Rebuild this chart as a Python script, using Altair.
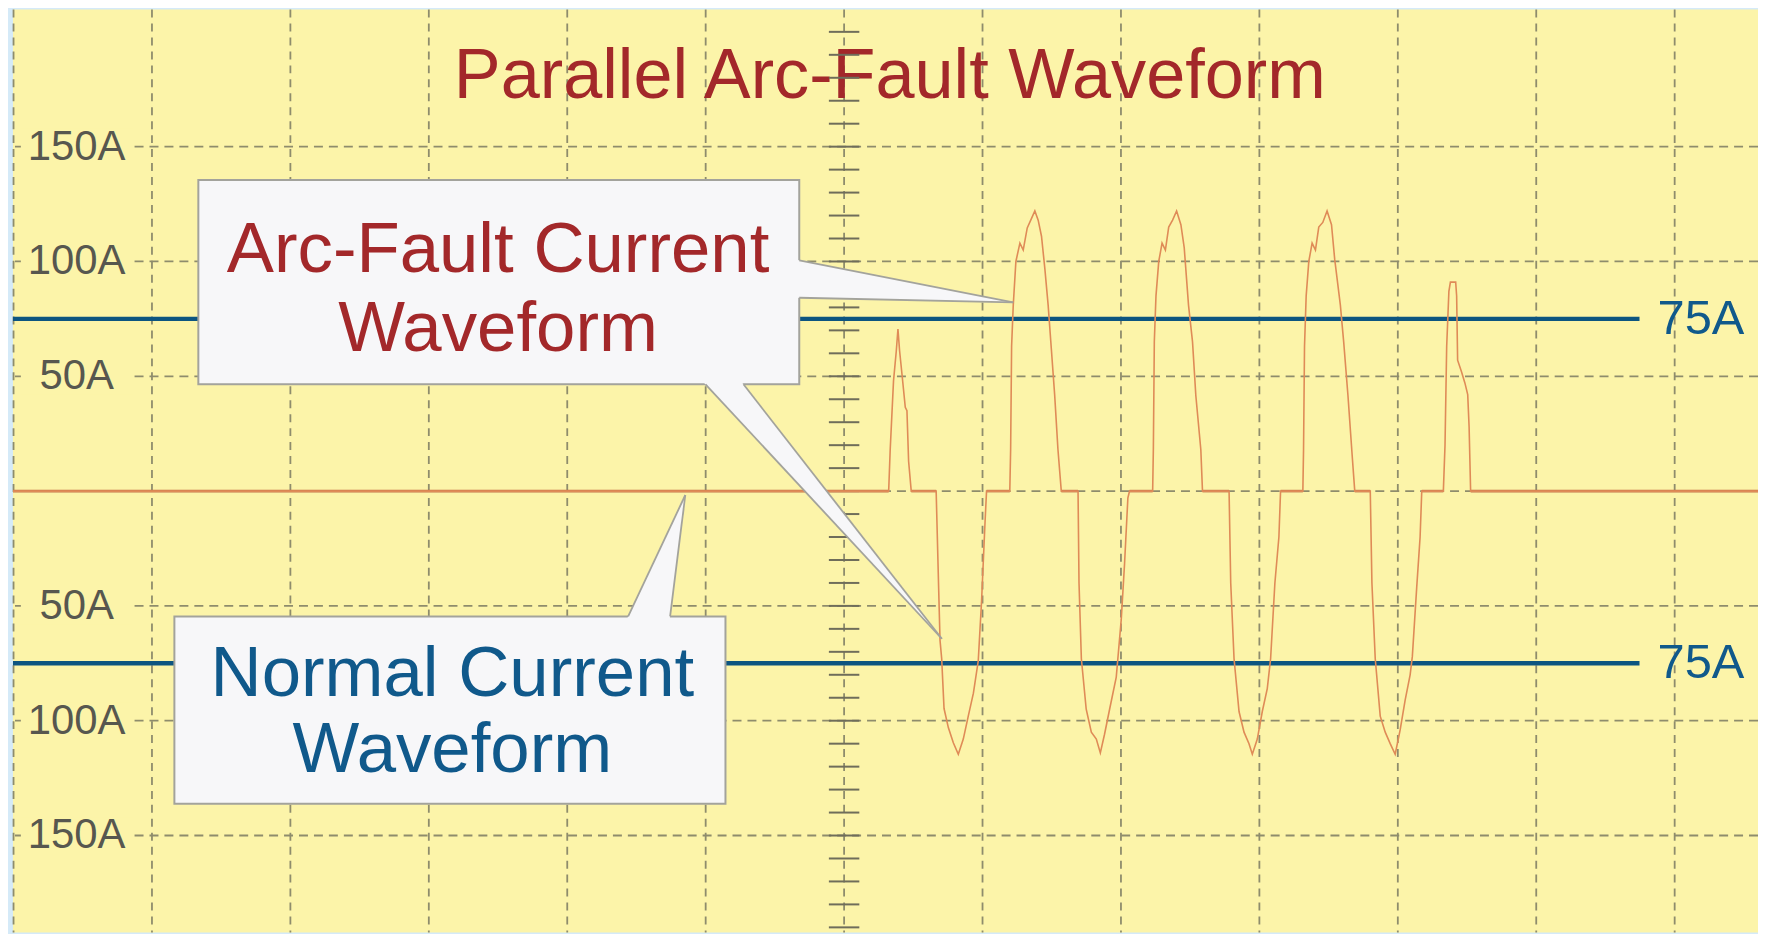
import altair as alt
import pandas as pd

# ---------------- data ----------------
# x = time in oscilloscope divisions (0 = centre graticule), y = current in amperes
X_MIN, X_MAX = -6.004, 6.602
Y_MIN, Y_MAX = -192.2, 209.7

GRID_X = [-6, -5, -4, -3, -2, -1, 0, 1, 2, 3, 4, 5, 6]
GRID_Y = [-150, -100, -50, 0, 50, 100, 150]
MINOR_TICKS = [-190, -180, -170, -160, -150, -140, -130, -120, -110, -100,
               -90, -80, -70, -60, -50, -40, -30, -20, -10, 0,
               10, 20, 30, 40, 50, 60, 70, 80, 90, 100,
               110, 120, 130, 140, 150, 160, 170, 180, 190, 200]

Y_LABEL_VALUES = [150, 100, 50, -50, -100, -150]
Y_LABEL_TEXT = ["150A", "100A", "50A", "50A", "100A", "150A"]

LIMIT_VALUES = [75, -75]
LIMIT_TEXT = ["75A", "75A"]

WAVE_T = [-6.004, 0.322, 0.333, 0.357, 0.377, 0.389, 0.401, 0.418, 0.442, 0.454, 0.466, 0.485,
          0.665, 0.682, 0.693, 0.705, 0.722, 0.753, 0.789, 0.825, 0.861, 0.897, 0.934, 0.969, 0.993, 1.017, 1.029,
          1.197, 1.203, 1.210, 1.222, 1.241, 1.270, 1.294, 1.323, 1.354, 1.378, 1.402, 1.426, 1.450, 1.474, 1.497, 1.521, 1.545, 1.569,
          1.690, 1.697, 1.714, 1.749, 1.786, 1.822, 1.851, 1.881, 1.918, 1.966, 2.002, 2.026, 2.050, 2.062,
          2.229, 2.234, 2.241, 2.253, 2.273, 2.297, 2.321, 2.345, 2.373, 2.402, 2.433, 2.457, 2.488, 2.517, 2.541, 2.577, 2.589,
          2.781, 2.793, 2.817, 2.853, 2.889, 2.925, 2.949, 2.985, 3.021, 3.057, 3.081, 3.112, 3.141, 3.153,
          3.314, 3.319, 3.326, 3.338, 3.357, 3.381, 3.405, 3.429, 3.458, 3.489, 3.521, 3.544, 3.585, 3.609, 3.640, 3.669, 3.689,
          3.801, 3.813, 3.837, 3.873, 3.909, 3.945, 3.981, 4.017, 4.053, 4.089, 4.105, 4.137, 4.161, 4.173,
          4.329, 4.341, 4.353, 4.369, 4.380, 4.418, 4.425, 4.432, 4.460, 4.485, 4.505, 4.515, 4.526,
          6.602]
WAVE_A = [0, 0, 18, 48, 61, 70.6, 61, 51, 36.5, 35, 13, 0,
          0, -40, -65, -73, -94.7, -103, -109.6, -114.6, -108, -98, -88, -74, -48, -15, 0,
          0, 18, 63, 81, 100, 108, 105, 114.6, 118.8, 122, 118, 111, 97, 81, 62, 42, 18, 0,
          0, -40, -73, -95, -105, -108, -114, -106, -95, -81, -56, -31.6, -3, 0,
          0, 18, 65, 85, 100, 108, 105, 115, 118, 122, 116, 106, 81, 65, 41.5, 18, 0,
          0, -40, -73, -96, -105, -110, -114.6, -108, -96, -86, -73, -40, -20, 0,
          0, 18, 63, 85, 100, 108, 105, 115, 117, 122, 116, 101, 81, 65, 41.5, 16.6, 0,
          0, -40, -73, -98, -105, -110, -114.6, -104, -91, -80, -72, -41.5, -20, 0,
          0, 20, 63, 87, 91, 91, 85, 57, 52, 47, 42, 28, 0,
          0]
assert len(WAVE_T) == len(WAVE_A)

# flat (noisy) stretches of the trace at 0 A
FLAT_START = [-6.004, 0.485, 1.029, 1.569, 2.062, 2.589, 3.153, 3.689, 4.173, 4.526]
FLAT_END = [0.322, 0.665, 1.197, 1.690, 2.229, 2.781, 3.314, 3.801, 4.329, 6.602]

TITLE = "Parallel Arc-Fault Waveform"
ARC_LINES = ["Arc-Fault Current", "Waveform"]
NORMAL_LINES = ["Normal Current", "Waveform"]

# callout geometry in data units (divisions, amperes)
ARC_BOX = dict(t0=-4.665, t1=-0.324, a0=46.5, a1=135.5)
NORMAL_BOX = dict(t0=-4.838, t1=-0.857, a0=-136.2, a1=-54.6)

# ---------------- styling ----------------
FONT = "Liberation Sans"
YELLOW = "#fcf4a9"
LIGHT_BLUE = "#d5eaf8"
GRID = "#8e8c6c"
BLUE_LINE = "#0d5580"
BLUE_TEXT = "#10598b"
RED_TEXT = "#a3282a"
BOX_FILL = "#f7f7f9"
BOX_EDGE = "#a3a39c"
WAVE = "#df8b57"
NOISE = "#c4714a"

XS = alt.Scale(domain=[X_MIN, X_MAX], nice=False, zero=False)
YS = alt.Scale(domain=[Y_MIN, Y_MAX], nice=False, zero=False)


def X(f):
    return alt.X(f"{f}:Q", scale=XS, axis=None)


def Y(f):
    return alt.Y(f"{f}:Q", scale=YS, axis=None)


grid_v = alt.Chart(pd.DataFrame({"t": GRID_X})).mark_rule(
    color=GRID, strokeWidth=1.8, strokeDash=[8, 6]).encode(x=X("t"))
grid_h = alt.Chart(pd.DataFrame({"a": GRID_Y})).mark_rule(
    color=GRID, strokeWidth=1.8, strokeDash=[9, 6]).encode(y=Y("a"))

ticks_df = pd.DataFrame({"a": MINOR_TICKS})
ticks_df["t0"] = -0.11
ticks_df["t1"] = 0.11
center_ticks = alt.Chart(ticks_df).mark_rule(color="#6f6d5a", strokeWidth=2).encode(
    x=X("t0"), x2="t1", y=Y("a"))

lab_df = pd.DataFrame({"a": Y_LABEL_VALUES, "label": Y_LABEL_TEXT})
lab_df["t"] = -5.544
lab_df["t0"] = -5.947
lab_df["t1"] = -5.14
lab_df["a0"] = lab_df["a"] - 8
lab_df["a1"] = lab_df["a"] + 8
label_bg = alt.Chart(lab_df).mark_rect(color=YELLOW).encode(
    x=X("t0"), x2="t1", y=Y("a0"), y2="a1")
labels = alt.Chart(lab_df).mark_text(
    font=FONT, fontSize=42, color="#57574f", align="center", baseline="middle").encode(
    x=X("t"), y=Y("a"), text="label:N")

lim_df = pd.DataFrame({"a": LIMIT_VALUES, "label": LIMIT_TEXT})
lim_df["t0"] = X_MIN
lim_df["t1"] = 5.746
lim_df["tl"] = 6.19
limit_lines = alt.Chart(lim_df).mark_rule(color=BLUE_LINE, strokeWidth=4.5).encode(
    x=X("t0"), x2="t1", y=Y("a"))
limit_text = alt.Chart(lim_df).mark_text(
    font=FONT, fontSize=49, color=BLUE_TEXT, align="center", baseline="middle").encode(
    x=X("tl"), y=Y("a"), text="label:N")

title = alt.Chart(pd.DataFrame({"t": [0.33], "a": [171.0], "s": [TITLE]})).mark_text(
    font=FONT, fontSize=70.5, color=RED_TEXT, align="center", baseline="alphabetic").encode(
    x=X("t"), y=Y("a"), text="s:N")

wave_df = pd.DataFrame({"t": WAVE_T, "a": WAVE_A, "i": list(range(len(WAVE_T)))})
wave = alt.Chart(wave_df).mark_line(color=WAVE, strokeWidth=1.6, clip=True).encode(
    x=X("t"), y=Y("a"), order="i:Q")

flat_df = pd.DataFrame({"t0": FLAT_START, "t1": FLAT_END})
flat_df["a"] = 0
noise = alt.Chart(flat_df).mark_rule(color=NOISE, strokeWidth=2.6, clip=True).encode(
    x=X("t0"), x2="t1", y=Y("a"))

box_df = pd.DataFrame([ARC_BOX, NORMAL_BOX])
boxes = alt.Chart(box_df).mark_rect(fill=BOX_FILL, stroke=BOX_EDGE, strokeWidth=2).encode(
    x=X("t0"), x2="t1", y=Y("a0"), y2="a1")

# pointer pointing right from the arc-fault box
p1 = alt.Chart(pd.DataFrame({"t": [-0.345, 1.222], "a": [100.75, 82.2], "b": [84.23, 82.2]})).mark_area(
    color=BOX_FILL, opacity=1).encode(x=X("t"), y=Y("a"), y2="b")
# pointer pointing down from the arc-fault box
p2 = alt.Chart(pd.DataFrame({"a": [48.0, -64.3], "t": [-1.024, 0.706], "u": [-0.746, 0.706]})).mark_area(
    color=BOX_FILL, opacity=1, orient="horizontal").encode(y=Y("a"), x=X("t"), x2="u")
# pointer pointing up from the normal box
p3 = alt.Chart(pd.DataFrame({"a": [-56.0, -1.7], "t": [-1.571, -1.147], "u": [-1.260, -1.147]})).mark_area(
    color=BOX_FILL, opacity=1, orient="horizontal").encode(y=Y("a"), x=X("t"), x2="u")

edges_df = pd.DataFrame({
    "t0": [-0.324, -0.324, -1.001, -0.727, -1.560, -1.257],
    "a0": [100.5, 84.2, 46.5, 46.5, -54.6, -54.6],
    "t1": [1.222, 1.222, 0.706, 0.706, -1.147, -1.147],
    "a1": [82.2, 82.2, -64.3, -64.3, -1.7, -1.7],
})
edges = alt.Chart(edges_df).mark_rule(color=BOX_EDGE, strokeWidth=1.8).encode(
    x=X("t0"), x2="t1", y=Y("a0"), y2="a1")

arc_text = alt.Chart(pd.DataFrame({"t": [-2.50, -2.50], "a": [95.2, 61.1], "s": ARC_LINES})).mark_text(
    font=FONT, fontSize=71, color=RED_TEXT, align="center", baseline="alphabetic").encode(
    x=X("t"), y=Y("a"), text="s:N")
normal_text = alt.Chart(pd.DataFrame({"t": [-2.83, -2.83], "a": [-89.2, -122.5], "s": NORMAL_LINES})).mark_text(
    font=FONT, fontSize=71, color=BLUE_TEXT, align="center", baseline="alphabetic").encode(
    x=X("t"), y=Y("a"), text="s:N")

chart = alt.layer(
    grid_v, grid_h, title, center_ticks, label_bg, labels,
    limit_lines, limit_text, noise, wave,
    boxes, p1, p2, p3, edges, arc_text, normal_text,
).properties(
    width=1751, height=926,
    background=LIGHT_BLUE,
    padding={"left": 5, "top": 0, "right": 0, "bottom": 0},
    autosize=alt.AutoSizeParams(type="none"),
).configure_view(fill=YELLOW, strokeWidth=0)

chart.save("out.html", embed_options={"renderer": "svg", "actions": False})
